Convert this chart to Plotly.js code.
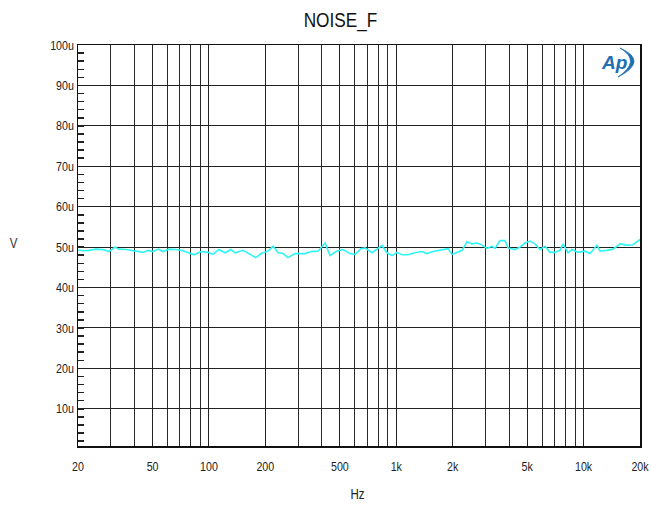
<!DOCTYPE html>
<html>
<head>
<meta charset="utf-8">
<script src="https://cdn.plot.ly/plotly-3.0.1.min.js"></script>
<style>html,body{margin:0;padding:0;background:#fff}#chart{width:651px;height:506px}</style>
</head>
<body>
<div id="chart"></div>
<script>
// Frequency (Hz)
const freqHz = [20, 21.3, 22.9, 24.9, 27.2, 29.3, 31.5, 33.1, 36.1, 40.8, 44.5, 47.3, 50.3, 53.5, 56.8, 61.2, 66.7, 72.7, 78.3, 83.2, 90.7, 98.9, 105, 113,
  122, 131, 138, 152, 166, 178, 190, 207, 220, 234, 249, 264, 288, 326, 351, 382, 417, 443, 477, 519, 566, 602, 648,
  681, 742, 789, 839, 892, 949, 1009, 1073, 1155, 1259, 1372, 1459, 1570, 1712, 1889, 1984, 2136, 2244, 2386, 2538, 2698, 2869, 3050, 3243, 3365, 3578, 3805,
  3948, 4304, 4577, 4866, 5175, 5502, 5852, 6222, 6616, 7036, 7482, 7764, 8256, 8672, 9338, 10176, 10820, 11792, 12234, 13332, 14354, 15644, 17048, 18358, 20000];
// Noise level in microvolts
const noiseUV = [49.3, 49.1, 49.2, 49.5, 49.4, 48.9, 50.0, 49.5, 49.4, 49.1, 48.7, 49.2, 48.9, 49.5, 48.9, 49.5, 49.4, 49.1, 48.6, 48.1, 48.9, 48.7, 48.2, 49.4,
  48.6, 49.4, 48.6, 49.2, 48.2, 47.4, 48.4, 49.0, 50.2, 48.6, 48.4, 47.4, 48.4, 48.4, 48.9, 49.0, 51.0, 47.9, 48.9, 49.4, 48.4, 48.2, 49.6,
  49.8, 48.6, 49.4, 50.4, 48.6, 47.9, 48.7, 48.1, 48.1, 48.6, 48.9, 48.4, 48.9, 49.2, 49.6, 48.2, 48.7, 49.2, 51.3, 50.8, 51.0, 50.5, 49.7, 50.2, 49.7, 51.6, 51.6,
  49.8, 49.4, 50.0, 51.0, 51.5, 50.8, 49.4, 50.2, 48.7, 48.7, 49.2, 50.8, 48.6, 49.4, 48.7, 49.0, 48.4, 50.5, 49.0, 49.2, 49.5, 50.8, 50.5, 50.6, 51.9];

const yTickVals = [10, 20, 30, 40, 50, 60, 70, 80, 90, 100];
const yTickText = ["10u", "20u", "30u", "40u", "50u", "60u", "70u", "80u", "90u", "100u"];
const xTickVals = [20, 50, 100, 200, 500, 1000, 2000, 5000, 10000, 20000];
const xTickText = ["20", "50", "100", "200", "500", "1k", "2k", "5k", "10k", "20k"];
const xMinorGrid = [30, 40, 60, 70, 80, 90, 300, 400, 600, 700, 800, 900, 3000, 4000, 6000, 7000, 8000, 9000];

const volts = noiseUV.map(v => v * 1e-6);
const FONT = "'Liberation Sans', Arial, sans-serif";

const trace = {
  x: freqHz, y: volts, type: 'scatter', mode: 'lines',
  line: {color: '#2ef6f6', width: 1.6}, hoverinfo: 'skip'
};

// plot area pixel mapping for annotations / logo
const L = 78, R = 640, T = 45, B = 446;
const px = x => (x - L) / (R - L);
const py = y => (B - y) / (B - T);

const layout = {
  width: 651, height: 506,
  margin: {l: L, r: 651 - R, t: T, b: 506 - B},
  paper_bgcolor: '#fff', plot_bgcolor: '#fff',
  showlegend: false,
  title: {text: 'NOISE_F', x: 0.523, xanchor: 'center', y: 0.962, yanchor: 'middle',
          font: {family: FONT, size: 21, color: '#111'}},
  xaxis: {
    type: 'log', range: [Math.log10(20), Math.log10(20000)],
    tickvals: xTickVals, ticktext: xTickText, ticks: '',
    ticklabelstandoff: 8,
    tickfont: {family: FONT, size: 13, color: '#222'},
    showgrid: true, gridcolor: '#222', gridwidth: 1,
    minor: {tickvals: xMinorGrid, showgrid: true, gridcolor: '#2a2a2a', gridwidth: 1, ticks: ''},
    showline: true, linecolor: '#111', linewidth: 1.5, mirror: true, zeroline: false
  },
  yaxis: {
    range: [0.8e-6, 100e-6],
    tickvals: yTickVals.map(v => v * 1e-6), ticktext: yTickText,
    ticks: 'inside', ticklen: 0, tickcolor: '#111',
    tickfont: {family: FONT, size: 13, color: '#222'},
    showgrid: true, gridcolor: '#222', gridwidth: 1,
    minor: {dtick: 2e-6, tick0: 0, ticks: 'inside', ticklen: 6, tickcolor: '#222', tickwidth: 1.5, showgrid: false},
    showline: true, linecolor: '#111', linewidth: 1.5, mirror: true, zeroline: false
  },
  annotations: [
    {text: 'V', xref: 'paper', yref: 'paper', x: px(14), y: py(243), xanchor: 'center', yanchor: 'middle', showarrow: false,
     font: {family: FONT, size: 14, color: '#333'}},
    {text: 'Hz', xref: 'paper', yref: 'paper', x: px(357), y: py(494), xanchor: 'center', yanchor: 'middle', showarrow: false,
     font: {family: FONT, size: 14, color: '#222'}},
    {text: '<b><i>Ap</i></b>', xref: 'paper', yref: 'paper', x: px(614), y: py(63), xanchor: 'center', yanchor: 'middle', showarrow: false,
     font: {family: FONT, size: 19, color: '#1f6fb2'}}
  ],
  shapes: [
    {type: 'path', xref: 'paper', yref: 'paper',
     path: 'M ' + px(620) + ',' + py(48) + ' Q ' + px(649) + ',' + py(61) + ' ' + px(618) + ',' + py(77) +
           ' Q ' + px(642) + ',' + py(61) + ' ' + px(620) + ',' + py(48) + ' Z',
     fillcolor: '#1f6fb2', line: {color: '#1f6fb2', width: 0.8}}
  ]
};

Plotly.newPlot('chart', [trace], layout, {staticPlot: true, displayModeBar: false}).then(gd => {
  // emulate the narrow (condensed) typeface of the original by compressing glyph widths
  const sel = gd.querySelectorAll('.gtitle, .xtick text, .ytick text, .annotation-text');
  sel.forEach(t => {
    if (t.textContent === 'Ap') return;
    const w = t.getComputedTextLength();
    if (w > 0) {
      t.setAttribute('textLength', (w * 0.82).toFixed(2));
      t.setAttribute('lengthAdjust', 'spacingAndGlyphs');
    }
  });
});
</script>
</body>
</html>
